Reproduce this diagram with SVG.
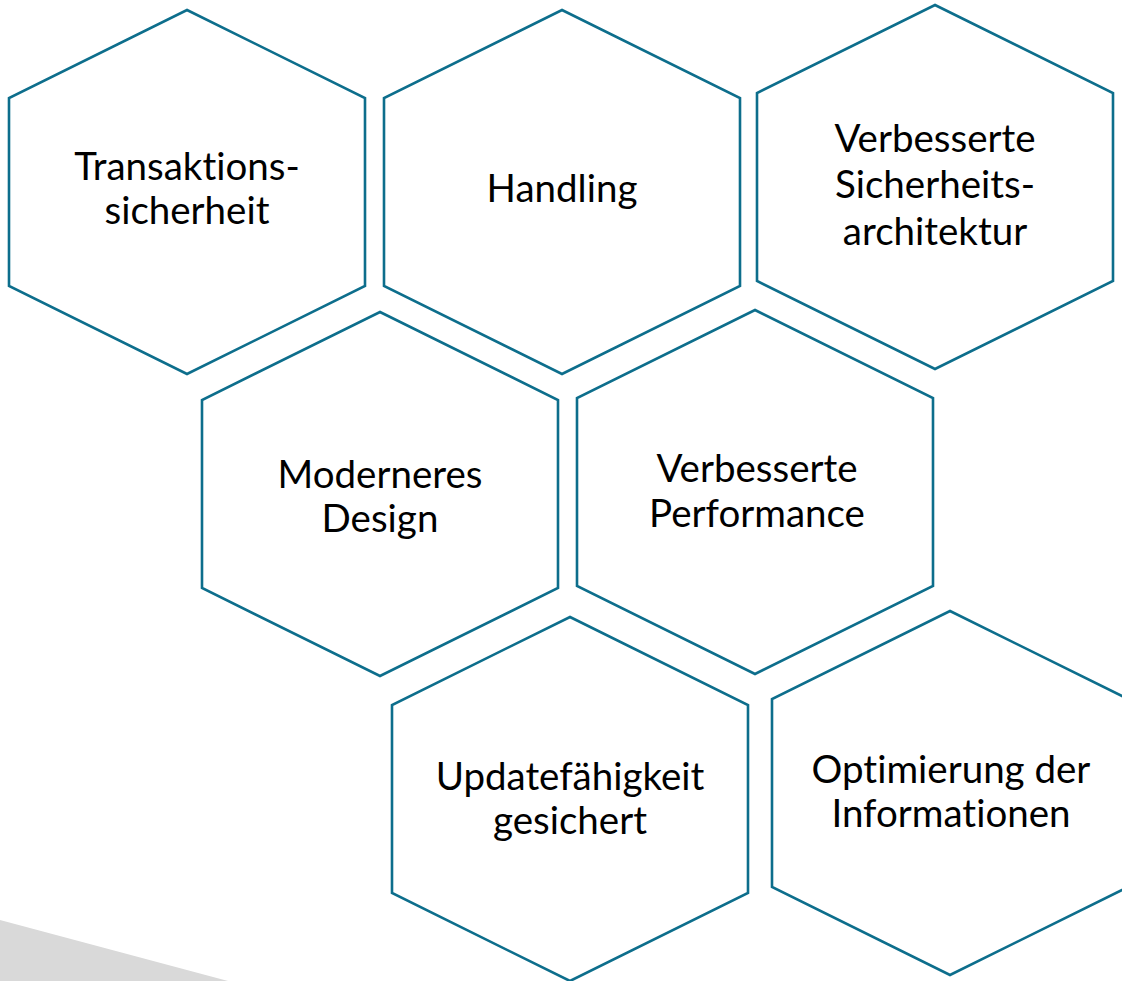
<svg xmlns="http://www.w3.org/2000/svg" width="1122" height="981" viewBox="0 0 1122 981">
<style>
.hex{fill:#fff;stroke:#0d6e8c;stroke-width:2.6;stroke-linejoin:miter}
.t{font-family:Lato,"Liberation Sans",sans-serif;font-size:38.5px;fill:#000;text-anchor:middle;font-variant-ligatures:none;font-feature-settings:"liga" 0,"clig" 0,"dlig" 0}
</style>
<rect width="1122" height="981" fill="#fff"/>
<polygon points="0,920 228,981 0,981" fill="#d9d9d9"/>
<g id="connectors"></g>
<g id="hex1">
<polygon class="hex" points="187,10 365,98 365,286 187,374 9,286 9,98"/>
<text class="t" x="187" y="180">Transaktions-</text>
<text class="t" x="187" y="224">sicherheit</text>
</g>
<g id="hex2">
<polygon class="hex" points="562,10 740,98 740,286 562,374 384,286 384,98"/>
<text class="t" x="562" y="202">Handling</text>
</g>
<g id="hex3">
<polygon class="hex" points="935,5 1113,93 1113,281 935,369 757,281 757,93"/>
<text class="t" x="935" y="152">Verbesserte</text>
<text class="t" x="935" y="198">Sicherheits-</text>
<text class="t" x="935" y="245">architektur</text>
</g>
<g id="hex4">
<polygon class="hex" points="380,312 558,400 558,588 380,676 202,588 202,400"/>
<text class="t" x="380" y="488">Moderneres</text>
<text class="t" x="380" y="532">Design</text>
</g>
<g id="hex5">
<polygon class="hex" points="755,310 933,398 933,586 755,674 577,586 577,398"/>
<text class="t" x="757" y="482">Verbesserte</text>
<text class="t" x="757" y="527">Performance</text>
</g>
<g id="hex6">
<polygon class="hex" points="570,617 748,705 748,893 570,981 392,893 392,705"/>
<text class="t" x="570" y="790">Updatefähigkeit</text>
<text class="t" x="570" y="834">gesichert</text>
</g>
<g id="hex7">
<polygon class="hex" points="950,611 1128,699 1128,887 950,975 772,887 772,699"/>
<text class="t" x="951" y="783">Optimierung der</text>
<text class="t" x="951" y="827">Informationen</text>
</g>
</svg>
